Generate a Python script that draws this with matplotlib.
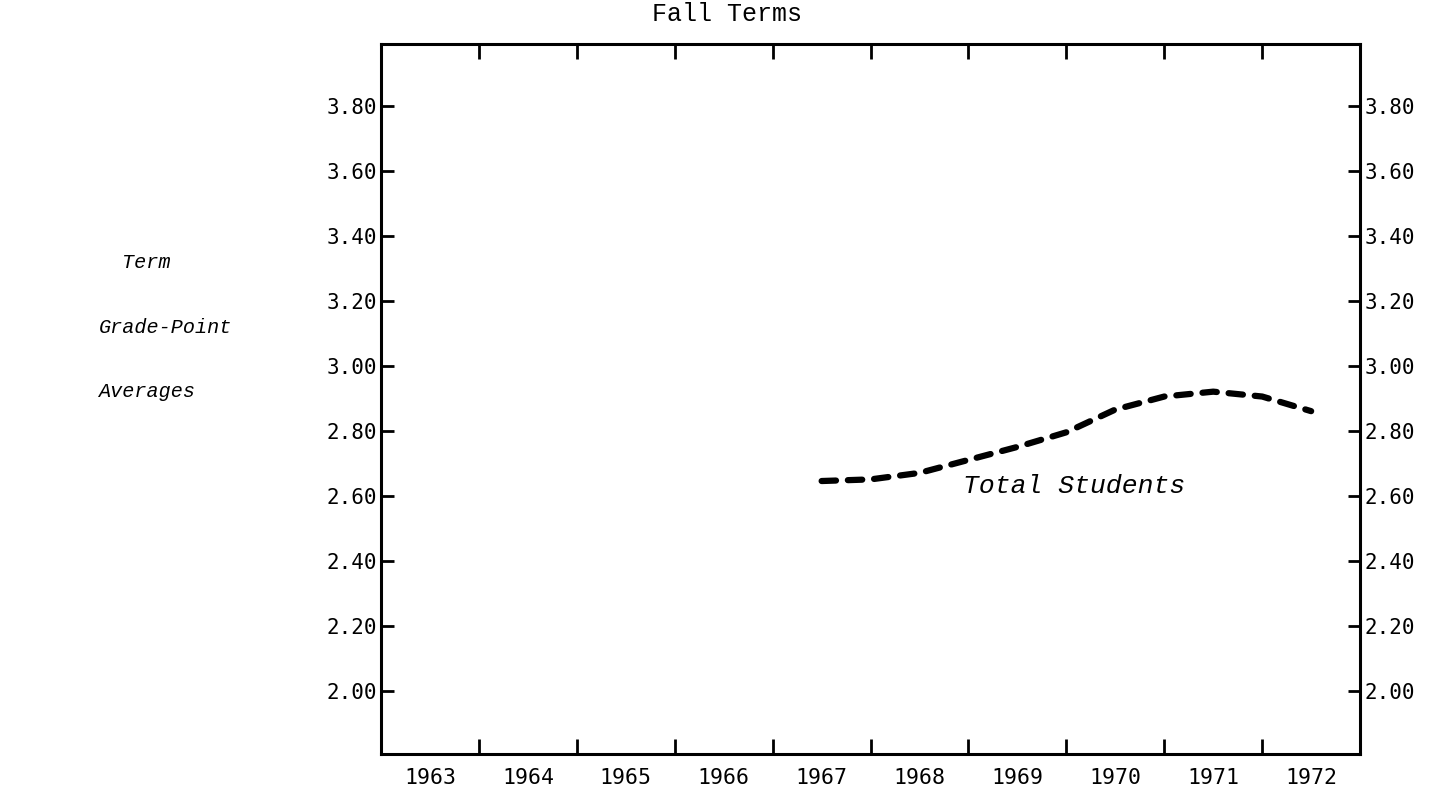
import matplotlib
matplotlib.use("Agg")
import matplotlib.pyplot as plt
from matplotlib.ticker import FixedLocator, NullFormatter, FixedFormatter

# values (half-year steps)
years = [1967.0, 1967.5, 1968.0, 1968.5, 1969.0, 1969.5, 1970.0, 1970.5, 1971.0, 1971.5, 1972.0]
gpa_total = [2.645, 2.65, 2.67, 2.71, 2.75, 2.795, 2.865, 2.905, 2.92, 2.905, 2.86]

year_labels = ["1963", "1964", "1965", "1966", "1967", "1968", "1969", "1970", "1971", "1972"]
gpa_ticks = [2.00, 2.20, 2.40, 2.60, 2.80, 3.00, 3.20, 3.40, 3.60, 3.80]

mono = "DejaVu Sans Mono"
type_font = "Liberation Mono"

fig = plt.figure(figsize=(14.5, 7.95), dpi=100)
ax = fig.add_axes([0.2628, 0.0516, 0.6752, 0.8931])

ax.plot(years, gpa_total, color="black", lw=4.5,
        linestyle=(0, (2.3, 1.9)), dash_capstyle="round", solid_capstyle="round")

ax.set_xlim(1962.5, 1972.5)
ax.set_ylim(1.805, 3.99)

# x: ticks between years, labels centred on each year
year_nums = [int(y) for y in year_labels]
ax.xaxis.set_major_locator(FixedLocator([y + 0.5 for y in year_nums[:-1]]))
ax.xaxis.set_major_formatter(NullFormatter())
ax.xaxis.set_minor_locator(FixedLocator(year_nums))
ax.xaxis.set_minor_formatter(FixedFormatter(year_labels))
ax.tick_params(axis="x", which="major", direction="in", length=11, width=2,
               top=True, bottom=True)
ax.tick_params(axis="x", which="minor", length=0, pad=10, labelsize=15.5)

ax.set_yticks(gpa_ticks)
ax.set_yticklabels([f"{v:.2f}" for v in gpa_ticks])
ax.tick_params(axis="y", direction="in", length=9, width=2, left=True, right=True,
               labelleft=True, labelright=True, pad=3, labelsize=15)

for lab in ax.get_xticklabels(minor=True) + ax.get_yticklabels():
    lab.set_family(mono)

for sp in ax.spines.values():
    sp.set_linewidth(2.2)

fig.text(0.5014, 0.983, "Fall Terms", ha="center", va="center",
         fontsize=18, family=type_font)

fig.text(0.101, 0.670, "Term", ha="center", va="center",
         fontsize=14.5, family=type_font, style="italic")
fig.text(0.114, 0.588, "Grade-Point", ha="center", va="center",
         fontsize=14.5, family=type_font, style="italic")
fig.text(0.101, 0.507, "Averages", ha="center", va="center",
         fontsize=14.5, family=type_font, style="italic")

ax.text(1968.44, 2.63, "Total Students", ha="left", va="center",
        fontsize=19, family=type_font, style="italic")

fig.savefig("out.png", dpi=100)
